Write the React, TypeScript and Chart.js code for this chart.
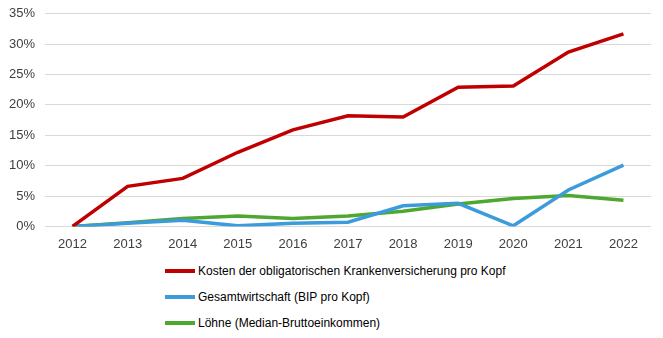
import React, { useEffect, useRef } from "react";
import { Chart, registerables } from "chart.js";
Chart.register(...registerables);

const years = ["2012", "2013", "2014", "2015", "2016", "2017", "2018", "2019", "2020", "2021", "2022"];
const kosten = [0, 6.6, 7.9, 12.2, 15.9, 18.2, 18.0, 22.9, 23.1, 28.7, 31.7];
const bip = [0, 0.5, 1.0, 0.1, 0.5, 0.7, 3.4, 3.8, 0.1, 6.0, 10.1];
const loehne = [0, 0.6, 1.3, 1.7, 1.3, 1.7, 2.5, 3.7, 4.6, 5.1, 4.3];
const seriesNames = [
  "Kosten der obligatorischen Krankenversicherung pro Kopf",
  "Gesamtwirtschaft (BIP pro Kopf)",
  "Löhne (Median-Bruttoeinkommen)",
];
const colors = ["#C00000", "#3B9BDB", "#4EA72E"];

const FONT = "'Liberation Sans', Arial, sans-serif";

export default function App() {
  const ref = useRef<HTMLCanvasElement>(null);
  useEffect(() => {
    if (!ref.current) return;
    const chart = new Chart(ref.current, {
      type: "line",
      data: {
        labels: years,
        datasets: [kosten, bip, loehne].map((d, i) => ({
          label: seriesNames[i],
          data: d,
          borderColor: colors[i],
          backgroundColor: colors[i],
          borderWidth: 3.5,
          pointRadius: 0,
          tension: 0,
        })),
      },
      options: {
        animation: false,
        responsive: true,
        maintainAspectRatio: false,
        layout: { padding: { top: 0, right: 4, left: 0, bottom: 0 } },
        plugins: { legend: { display: false }, tooltip: { enabled: false } },
        scales: {
          x: {
            offset: true,
            grid: { display: false, drawTicks: false },
            border: { display: false },
            ticks: { color: "#404040", font: { family: FONT, size: 13 }, padding: 10 },
          },
          y: {
            min: 0,
            max: 35,
            grid: { color: "#D9D9D9", lineWidth: 1, drawTicks: false },
            border: { display: false },
            ticks: {
              stepSize: 5,
              color: "#404040",
              padding: 10,
              font: { family: FONT, size: 13 },
              callback: (v: any) => v + "%",
            },
          },
        },
      },
    });
    return () => chart.destroy();
  }, []);
  return (
    <div style={{ width: 656, marginLeft: -9, fontFamily: FONT }}>
      <div style={{ position: "relative", height: 266, marginTop: -12 }}>
        <canvas ref={ref} />
      </div>
      <div style={{ paddingLeft: 166, marginTop: -4 }}>
        {seriesNames.map((n, i) => (
          <div key={n} style={{ display: "flex", alignItems: "center", height: 26, fontSize: 12, color: "#000" }}>
            <span style={{ display: "inline-block", width: 30, height: 4, background: colors[i], marginRight: 3 }} />
            <span>{n}</span>
          </div>
        ))}
      </div>
    </div>
  );
}
